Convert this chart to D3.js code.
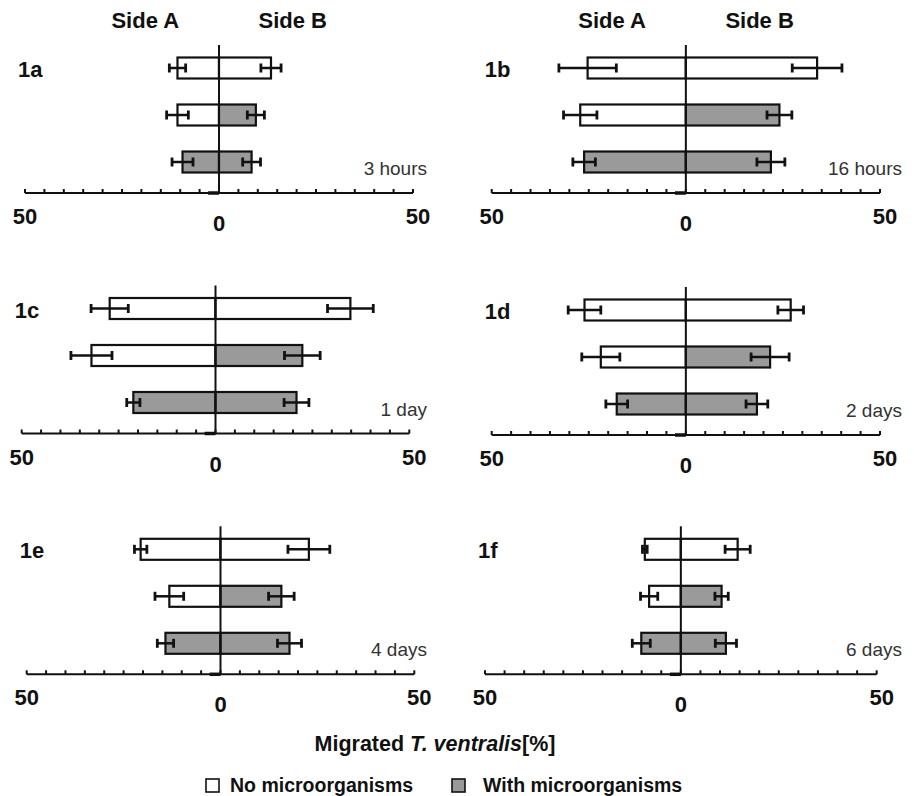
<!DOCTYPE html>
<html>
<head>
<meta charset="utf-8">
<script src="https://cdn.jsdelivr.net/npm/d3@7/dist/d3.min.js"></script>
<style>
  body { margin: 0; background: #fff; }
  svg { display: block; font-family: "Liberation Sans", Arial, sans-serif; }
</style>
</head>
<body>
<div id="chart"></div>
<script>
// panels and time points
const panelNames = ["1a", "1b", "1c", "1d", "1e", "1f"];
const durations = ["3 hours", "16 hours", "1 day", "2 days", "4 days", "6 days"];

// % migrated to side A / side B, rows top -> bottom
const sideA = [
  [10.7, 10.7, 9.4],
  [25.3, 27.2, 26.2],
  [27.3, 32.0, 21.2],
  [26.1, 21.9, 17.8],
  [20.6, 13.2, 14.2],
  [9.2, 8.1, 10.1]
];
const sideAErr = [
  [2.1, 2.8, 2.7],
  [7.4, 4.3, 2.9],
  [4.8, 5.3, 1.7],
  [4.2, 4.9, 2.8],
  [1.6, 3.7, 2.1],
  [0.6, 2.2, 2.3]
];
const sideB = [
  [13.4, 9.5, 8.4],
  [33.8, 24.1, 21.9],
  [34.8, 22.4, 20.9],
  [27.0, 21.7, 18.3],
  [22.8, 15.7, 17.8],
  [14.5, 10.4, 11.5]
];
const sideBErr = [
  [2.6, 2.2, 2.3],
  [6.4, 3.2, 3.6],
  [5.9, 4.6, 3.2],
  [3.3, 4.9, 2.8],
  [5.4, 3.3, 3.1],
  [3.2, 1.7, 2.7]
];
// treatment of each row per side (0 = no microorganisms, 1 = with)
const treatA = [0, 0, 1];
const treatB = [0, 1, 1];
const treatments = ["No microorganisms", "With microorganisms"];
const sides = ["Side A", "Side B"];
const tickLabels = [-50, 0, 50];

// layout of each panel: axis extent and baseline
const panelX = [[25, 413], [491.7, 880], [21.7, 409.3], [491.7, 880], [26.7, 414.3], [485, 876.7]];
const panelY = [193, 193, 433.5, 435, 674.3, 674.3];

const width = 914, height = 796;
const fills = ["#ffffff", "#9a9a9a"];
const ink = "#111";

const svg = d3.select("#chart").append("svg")
  .attr("width", width)
  .attr("height", height);

panelNames.forEach((name, p) => {
  const y0 = panelY[p];
  const x = d3.scaleLinear().domain([-50, 50]).range(panelX[p]);
  const y = d3.scalePoint().domain([0, 1, 2]).range([y0 - 125, y0 - 31]);
  const barH = 21;
  const g = svg.append("g");

  // axis line + ticks
  g.append("line")
    .attr("x1", x(-50)).attr("x2", x(50))
    .attr("y1", y0).attr("y2", y0)
    .attr("stroke", ink).attr("stroke-width", 2);
  g.selectAll(".tick").data(d3.range(-50, 51, 5)).join("line")
    .attr("x1", d => x(d)).attr("x2", d => x(d))
    .attr("y1", y0 - 4).attr("y2", y0)
    .attr("stroke", ink).attr("stroke-width", 2);
  g.append("line")
    .attr("x1", x(-2.8)).attr("x2", x(0))
    .attr("y1", y0).attr("y2", y0)
    .attr("stroke", ink).attr("stroke-width", 3.5);

  g.selectAll(".tl").data(tickLabels).join("text")
    .attr("x", d => x(d) + (d === 50 ? 5 : 0))
    .attr("y", d => d === 0 ? y0 + 38 : y0 + 31)
    .attr("text-anchor", "middle")
    .attr("font-size", 22).attr("font-weight", "bold").attr("fill", "#111")
    .text(d => Math.abs(d));

  const rows = [0, 1, 2];
  // side A bars
  g.selectAll(".ba").data(rows).join("rect")
    .attr("x", r => x(-sideA[p][r]))
    .attr("y", r => y(r) - barH / 2)
    .attr("width", r => x(0) - x(-sideA[p][r]))
    .attr("height", barH)
    .attr("fill", r => fills[treatA[r]])
    .attr("stroke", ink).attr("stroke-width", 2.2);
  // side B bars
  g.selectAll(".bb").data(rows).join("rect")
    .attr("x", x(0))
    .attr("y", r => y(r) - barH / 2)
    .attr("width", r => x(sideB[p][r]) - x(0))
    .attr("height", barH)
    .attr("fill", r => fills[treatB[r]])
    .attr("stroke", ink).attr("stroke-width", 2.2);

  // error bars
  const errs = [];
  rows.forEach(r => {
    errs.push({ v: -sideA[p][r], e: sideAErr[p][r], r });
    errs.push({ v: sideB[p][r], e: sideBErr[p][r], r });
  });
  const eg = g.selectAll(".err").data(errs).join("g");
  eg.append("line")
    .attr("x1", d => x(d.v - d.e)).attr("x2", d => x(d.v + d.e))
    .attr("y1", d => y(d.r)).attr("y2", d => y(d.r))
    .attr("stroke", ink).attr("stroke-width", 2.5);
  eg.selectAll("line.cap").data(d => [d.v - d.e, d.v + d.e].map(v => ({ v, r: d.r }))).join("line")
    .attr("class", "cap")
    .attr("x1", d => x(d.v)).attr("x2", d => x(d.v))
    .attr("y1", d => y(d.r) - 4.5).attr("y2", d => y(d.r) + 4.5)
    .attr("stroke", ink).attr("stroke-width", 2.8);

  // zero line
  g.append("line")
    .attr("x1", x(0)).attr("x2", x(0))
    .attr("y1", y0 - 148).attr("y2", y0)
    .attr("stroke", ink).attr("stroke-width", 2);

  // panel label and time
  g.append("text")
    .attr("x", x(-50) - 7).attr("y", y0 - 116)
    .attr("font-size", 22).attr("font-weight", "bold").attr("fill", "#111")
    .text(name);
  g.append("text")
    .attr("x", p % 2 === 0 ? 427 : 902).attr("y", y0 - 18)
    .attr("text-anchor", "end")
    .attr("font-size", 19).attr("fill", "#333")
    .text(durations[p]);

  // side headers on top row
  if (p < 2) {
    g.selectAll(".side").data(sides).join("text")
      .attr("x", (d, i) => x(i === 0 ? -19 : 19))
      .attr("y", 28)
      .attr("text-anchor", "middle")
      .attr("font-size", 22).attr("font-weight", "bold").attr("fill", "#111")
      .text(d => d);
  }
});

// common x title
const title = svg.append("text")
  .attr("x", 435).attr("y", 751)
  .attr("text-anchor", "middle")
  .attr("font-size", 21.5).attr("font-weight", "bold").attr("fill", "#111");
title.append("tspan").text("Migrated ");
title.append("tspan").attr("font-style", "italic").text("T. ventralis");
title.append("tspan").text("[%]");

// legend
const legX = [206, 452];
const labX = [230, 483];
const leg = svg.selectAll(".leg").data(treatments).join("g");
leg.append("rect")
  .attr("x", (d, i) => legX[i]).attr("y", 779)
  .attr("width", 13).attr("height", 13)
  .attr("fill", (d, i) => fills[i])
  .attr("stroke", ink).attr("stroke-width", 1.6);
leg.append("text")
  .attr("x", (d, i) => labX[i]).attr("y", 792)
  .attr("font-size", 19.5).attr("font-weight", "bold").attr("fill", "#111")
  .text(d => d);
</script>
</body>
</html>
